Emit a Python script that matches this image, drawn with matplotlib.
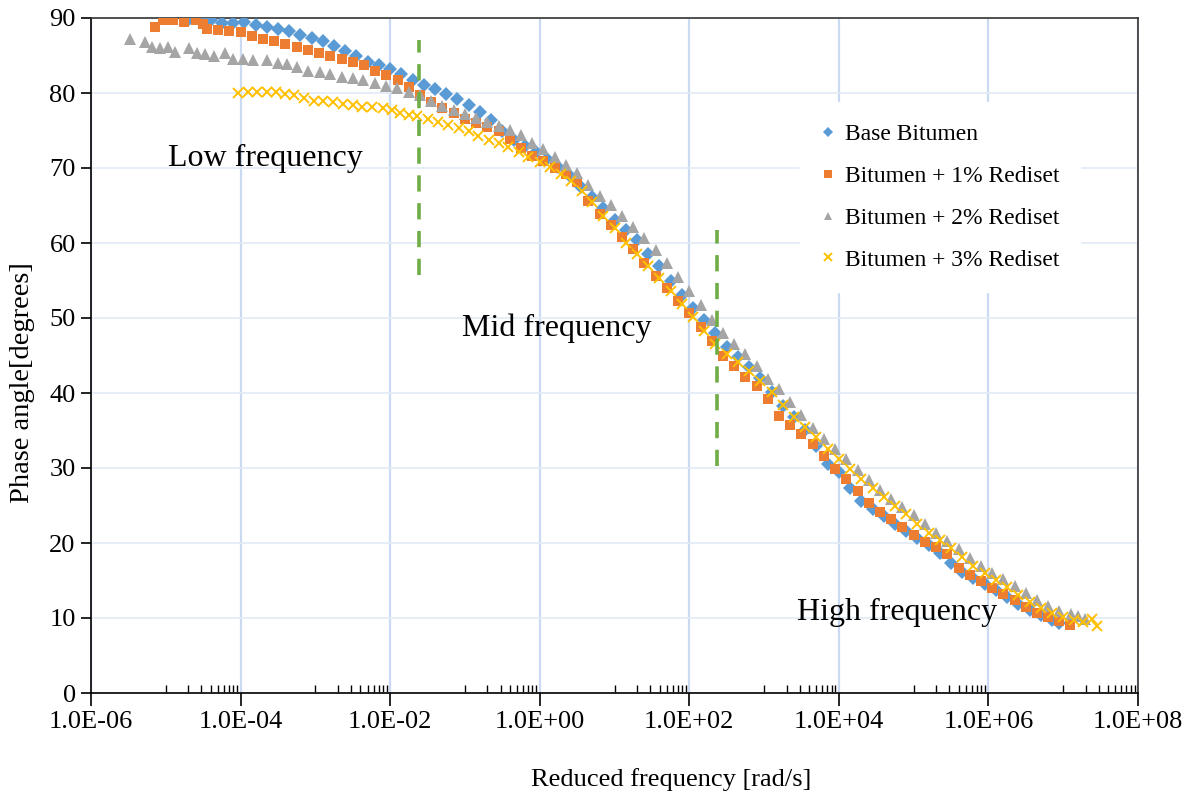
import numpy as np
import matplotlib
matplotlib.use("Agg")
import matplotlib.pyplot as plt
from matplotlib.ticker import FixedLocator, FuncFormatter, NullFormatter

plt.rcParams['font.family'] = ['Liberation Serif', 'DejaVu Serif']

# ---- data: log10(reduced frequency) and phase angle (deg) ----
base_logf = [-4.70, -4.55, -4.40, -4.25, -4.10, -3.95, -3.80, -3.65, -3.50, -3.35,
             -3.20, -3.05, -2.90, -2.75, -2.60, -2.45, -2.30, -2.15, -2.00, -1.85,
             -1.70, -1.55, -1.40, -1.25, -1.10, -0.95, -0.80, -0.65, -0.50, -0.35,
             -0.20, -0.05, 0.10, 0.25, 0.40, 0.55, 0.70, 0.85, 1.00, 1.15,
             1.30, 1.45, 1.60, 1.75, 1.90, 2.05, 2.20, 2.35, 2.50, 2.65,
             2.80, 2.95, 3.10, 3.25, 3.40, 3.55, 3.70, 3.85, 4.00, 4.15,
             4.30, 4.45, 4.60, 4.75, 4.90, 5.05, 5.20, 5.35, 5.50, 5.65,
             5.80, 5.95, 6.10, 6.25, 6.40, 6.55, 6.70, 6.85, 6.95]
base_phase = [89.8, 90.0, 89.8, 89.4, 89.4, 89.5, 89.1, 88.8, 88.6, 88.3,
              87.8, 87.3, 86.9, 86.3, 85.6, 84.9, 84.2, 83.7, 83.2, 82.5,
              81.8, 81.1, 80.5, 79.9, 79.2, 78.4, 77.5, 76.4, 75.0, 73.8,
              73.0, 72.2, 71.2, 70.2, 68.9, 67.5, 66.2, 64.7, 63.1, 61.8,
              60.4, 58.6, 56.9, 55.0, 53.1, 51.4, 49.7, 48.0, 46.1, 44.8,
              43.5, 42.0, 40.1, 38.3, 36.8, 35.1, 33.0, 30.6, 29.5, 27.3,
              25.6, 24.6, 23.6, 22.6, 21.6, 20.7, 19.8, 18.7, 17.4, 16.2,
              15.4, 14.6, 13.7, 12.8, 11.9, 11.1, 10.4, 9.7, 9.4]

r1_logf = [-5.14, -5.04, -4.90, -4.75, -4.60, -4.50, -4.45, -4.30, -4.15, -4.00,
           -3.85, -3.70, -3.55, -3.40, -3.25, -3.10, -2.95, -2.80, -2.65, -2.50,
           -2.35, -2.20, -2.05, -1.90, -1.75, -1.60, -1.45, -1.30, -1.15, -1.00,
           -0.85, -0.70, -0.55, -0.40, -0.25, -0.10, 0.05, 0.20, 0.35, 0.50,
           0.65, 0.80, 0.95, 1.10, 1.25, 1.40, 1.55, 1.70, 1.85, 2.00,
           2.15, 2.30, 2.45, 2.60, 2.75, 2.90, 3.05, 3.20, 3.35, 3.50,
           3.65, 3.80, 3.95, 4.10, 4.25, 4.40, 4.55, 4.70, 4.85, 5.00,
           5.15, 5.30, 5.45, 5.60, 5.75, 5.90, 6.05, 6.20, 6.35, 6.50,
           6.65, 6.80, 6.95, 7.09]
r1_phase = [88.8, 89.7, 89.8, 89.5, 89.7, 89.2, 88.5, 88.4, 88.3, 88.1,
            87.6, 87.2, 86.9, 86.5, 86.2, 85.7, 85.3, 84.9, 84.5, 84.1,
            83.7, 83.0, 82.4, 81.7, 80.8, 79.7, 78.8, 78.0, 77.3, 76.6,
            76.0, 75.5, 74.9, 73.9, 72.7, 71.6, 70.9, 70.0, 69.2, 68.2,
            65.6, 63.9, 62.4, 60.8, 59.2, 57.4, 55.6, 54.0, 52.3, 50.7,
            48.8, 47.0, 45.0, 43.6, 42.2, 40.9, 39.2, 37.0, 35.8, 34.5,
            33.2, 31.6, 29.9, 28.5, 27.0, 25.4, 24.1, 23.2, 22.2, 21.1,
            20.2, 19.5, 18.6, 16.7, 15.7, 14.9, 14.0, 13.2, 12.4, 11.5,
            10.7, 10.2, 9.6, 9.1]

r2_logf = [-5.48, -5.28, -5.18, -5.08, -4.97, -4.88, -4.69, -4.58, -4.48, -4.35,
           -4.21, -4.10, -3.97, -3.83, -3.65, -3.50, -3.38, -3.25, -3.10, -2.94,
           -2.80, -2.65, -2.50, -2.36, -2.20, -2.05, -1.91, -1.75, -1.60, -1.45,
           -1.30, -1.15, -1.00, -0.85, -0.70, -0.55, -0.40, -0.25, -0.10, 0.05,
           0.20, 0.35, 0.50, 0.65, 0.80, 0.95, 1.10, 1.25, 1.40, 1.55,
           1.70, 1.85, 2.00, 2.15, 2.30, 2.45, 2.60, 2.75, 2.90, 3.05,
           3.20, 3.35, 3.50, 3.65, 3.80, 3.95, 4.10, 4.25, 4.40, 4.55,
           4.70, 4.85, 5.00, 5.15, 5.30, 5.45, 5.60, 5.75, 5.90, 6.05,
           6.20, 6.35, 6.50, 6.65, 6.80, 6.95, 7.10, 7.20, 7.29]
r2_phase = [87.2, 86.8, 86.1, 86.0, 86.1, 85.5, 86.0, 85.3, 85.2, 85.0,
            85.3, 84.6, 84.5, 84.4, 84.4, 84.0, 83.9, 83.5, 83.0, 82.8,
            82.5, 82.2, 82.0, 81.7, 81.4, 81.0, 80.7, 80.2, 79.7, 79.0,
            78.3, 77.7, 77.2, 76.7, 76.2, 75.6, 75.1, 74.4, 73.4, 72.5,
            71.5, 70.4, 69.3, 67.7, 66.3, 65.1, 63.6, 62.2, 60.7, 59.1,
            57.3, 55.5, 53.6, 51.7, 49.8, 48.0, 46.6, 45.2, 43.6, 41.9,
            40.5, 38.8, 37.1, 35.4, 33.9, 32.6, 31.2, 29.8, 28.4, 27.1,
            25.9, 24.8, 23.7, 22.5, 21.4, 20.3, 19.2, 18.0, 16.9, 16.0,
            15.2, 14.3, 13.3, 12.4, 11.6, 11.0, 10.5, 10.3, 9.9]

r3_logf = [-4.03, -3.90, -3.78, -3.65, -3.52, -3.40, -3.28, -3.15, -3.02, -2.90,
           -2.76, -2.63, -2.50, -2.37, -2.24, -2.10, -1.98, -1.87, -1.75, -1.64,
           -1.50, -1.36, -1.22, -1.08, -0.95, -0.82, -0.68, -0.55, -0.42, -0.28,
           -0.15, 0.00, 0.14, 0.28, 0.42, 0.56, 0.70, 0.85, 1.00, 1.15,
           1.30, 1.45, 1.60, 1.75, 1.90, 2.05, 2.20, 2.35, 2.50, 2.65,
           2.80, 2.95, 3.10, 3.25, 3.40, 3.55, 3.70, 3.85, 4.00, 4.15,
           4.30, 4.45, 4.60, 4.75, 4.90, 5.05, 5.20, 5.35, 5.50, 5.65,
           5.80, 5.95, 6.10, 6.25, 6.40, 6.55, 6.70, 6.85, 7.00, 7.15,
           7.26, 7.38, 7.45]
r3_phase = [80.0, 80.1, 80.2, 80.1, 80.1, 79.9, 79.7, 79.3, 79.0, 78.9,
            78.8, 78.5, 78.4, 78.2, 78.1, 78.0, 77.7, 77.4, 77.1, 76.9,
            76.5, 76.2, 75.8, 75.4, 74.9, 74.3, 73.8, 73.3, 72.8, 72.2,
            71.5, 70.8, 70.1, 69.2, 68.3, 67.0, 65.4, 63.6, 62.0, 60.0,
            58.6, 57.0, 55.3, 53.6, 51.9, 50.1, 48.3, 46.6, 45.2, 44.1,
            43.0, 41.6, 40.1, 38.4, 36.8, 35.5, 34.2, 32.6, 31.2, 29.9,
            28.6, 27.4, 26.2, 25.0, 23.9, 22.6, 21.4, 20.4, 19.3, 18.1,
            17.0, 16.0, 15.1, 14.1, 13.1, 12.2, 11.4, 10.7, 10.2, 9.8,
            9.5, 9.9, 9.0]

series_labels = ["Base Bitumen", "Bitumen + 1% Rediset",
                 "Bitumen + 2% Rediset", "Bitumen + 3% Rediset"]

# region boundaries (dashed lines) and region labels
boundary_x = [0.0243, 234.0]
boundary_y = [(55.7, 87.1), (30.3, 61.7)]
region_text = ["Low frequency", "Mid frequency", "High frequency"]
region_pos = [(1.07e-5, 71.3), (0.091, 48.6), (2.75e3, 10.8)]

# ---- figure ----
fig = plt.figure(figsize=(11.97, 7.94), dpi=100)
ax = fig.add_axes([91/1197, 1-693/794, (1138-91)/1197, (693-18)/794])

ax.set_xscale('log')
ax.set_xlim(1e-6, 1e8)
ax.set_ylim(0, 90)

styles = [
    dict(marker='D', color='#5B9BD5', ms=6.8, mew=0),
    dict(marker='s', color='#ED7D31', ms=7.8, mew=0),
    dict(marker='^', color='#A5A5A5', ms=8.0, mew=0),
    dict(marker='x', color='#FFC000', ms=7.4, mew=1.4),
]
data = [(base_logf, base_phase), (r1_logf, r1_phase),
        (r2_logf, r2_phase), (r3_logf, r3_phase)]
for (lf, ph), st, lab in zip(data, styles, series_labels):
    ax.plot(10 ** np.array(lf), ph, linestyle='none', label=lab, zorder=3, **st)

for bx, (y0, y1) in zip(boundary_x, boundary_y):
    ax.plot([bx, bx], [y0, y1], color='#70AD47', lw=2.6,
            dashes=(4.5, 3.2), zorder=4)

for t, (tx, ty) in zip(region_text, region_pos):
    ax.text(tx, ty, t, fontsize=23, ha='left', va='center', zorder=5)

# ticks
major = [10.0 ** e for e in range(-6, 9, 2)]
minor = [k * 10.0 ** e for e in range(-5, 8, 2) for k in range(1, 10)]
ax.xaxis.set_major_locator(FixedLocator(major))
ax.xaxis.set_minor_locator(FixedLocator(minor))
ax.xaxis.set_major_formatter(FuncFormatter(lambda v, p: f"{v:.1E}"))
ax.xaxis.set_minor_formatter(NullFormatter())
ax.set_yticks(range(0, 91, 10))

ax.tick_params(axis='x', which='major', direction='out', length=9, width=1.2,
               labelsize=19, pad=4)
ax.tick_params(axis='x', which='minor', direction='in', length=6, width=1.0)
ax.tick_params(axis='y', which='major', direction='out', length=7, width=1.2,
               labelsize=19, pad=4)

ax.grid(True, axis='x', which='major', color='#C9DAF2', lw=1.6, zorder=0)
ax.grid(True, axis='y', which='major', color='#E3EAF5', lw=1.2, zorder=0)
ax.set_axisbelow(True)

for s in ax.spines.values():
    s.set_color('black')
    s.set_linewidth(1.2)
ax.spines['top'].set_color('#333333')
ax.spines['right'].set_color('#333333')

ax.set_xlabel("Reduced frequency [rad/s]", fontsize=19)
ax.xaxis.set_label_coords(0.554, -0.111)
ax.set_ylabel("Phase angle[degrees]", fontsize=20.5)
ax.yaxis.set_label_coords(-0.0535, 0.46)

leg = ax.legend(loc='upper left', bbox_to_anchor=(0.677, 0.875),
                frameon=True, fontsize=17, handlelength=0.6,
                handletextpad=0.4, labelspacing=0.86, borderpad=0.9,
                markerscale=0.75, borderaxespad=0)
leg.get_frame().set_facecolor('white')
leg.get_frame().set_edgecolor('white')
leg.get_frame().set_alpha(1.0)
leg.get_frame().set_boxstyle('square', pad=0)
leg.set_zorder(6)

fig.savefig("out.png", dpi=100)
